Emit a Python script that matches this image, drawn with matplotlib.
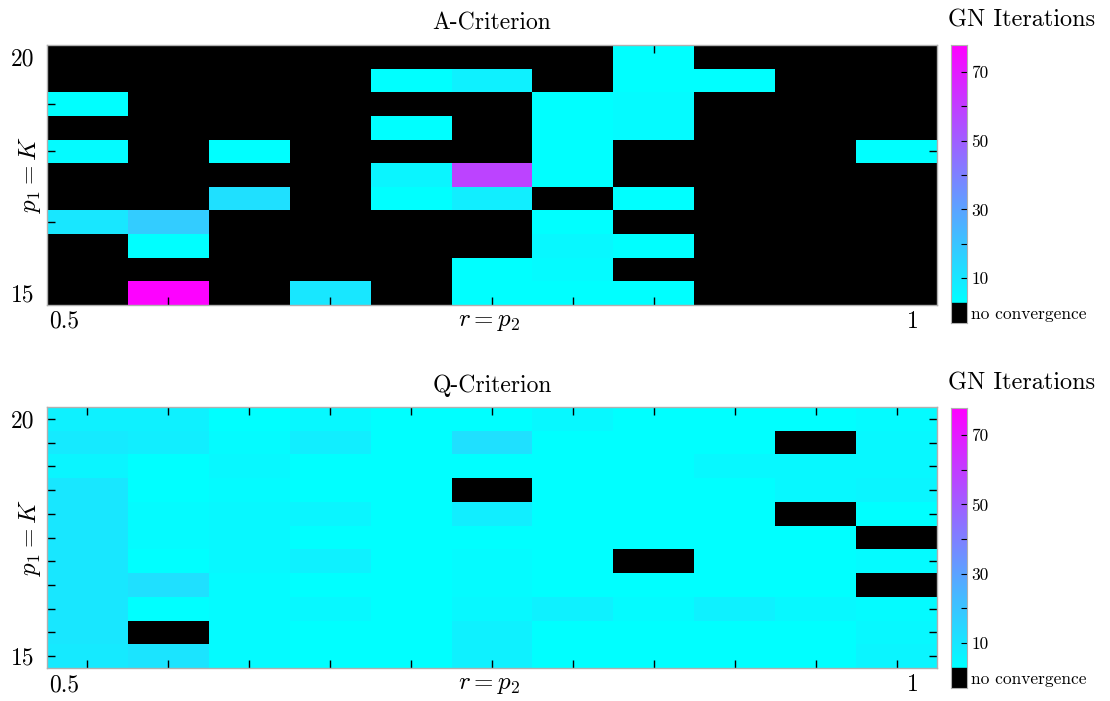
import numpy as np
import matplotlib
matplotlib.use("Agg")
import matplotlib.pyplot as plt

plt.rcParams['font.family'] = 'cmr10'
plt.rcParams['mathtext.fontset'] = 'cm'
plt.rcParams['axes.formatter.use_mathtext'] = True

N = np.nan

# grid values
r_vals = [0.5, 0.55, 0.6, 0.65, 0.7, 0.75, 0.8, 0.85, 0.9, 0.95, 1.0]
p1_vals = [20, 19.5, 19, 18.5, 18, 17.5, 17, 16.5, 16, 15.5, 15]

# GN iterations, rows from p1=20 (top) down to p1=15, NaN = no convergence
a_iters = [
    [N, N, N, N, N, N, N, 3, N, N, N],
    [N, N, N, N, 3, 7, N, 3, 3, N, N],
    [3, N, N, N, N, N, 3, 4, N, N, N],
    [N, N, N, N, 3, N, 3, 4, N, N, N],
    [4, N, 3, N, N, N, 3, N, N, N, 3],
    [N, N, N, N, 6, 58, 3, N, N, N, N],
    [N, N, 12, N, 3, 8, N, 3, N, N, N],
    [10, 18, N, N, N, N, 3, N, N, N, N],
    [N, 3, N, N, N, N, 5, 3, N, N, N],
    [N, N, N, N, N, 3, 4, N, N, N, N],
    [N, 77, N, 10, N, 3, 3, 3, N, N, N],
]

q_iters = [
    [7, 7, 3, 5, 3, 3, 5, 3, 3, 3, 4],
    [9, 8, 4, 8, 3, 12, 3, 3, 3, N, 5],
    [6, 3, 5, 3, 3, 3, 3, 3, 5, 5, 5],
    [10, 3, 4, 3, 3, N, 3, 3, 3, 5, 6],
    [10, 4, 5, 6, 3, 8, 3, 3, 3, N, 3],
    [10, 4, 5, 3, 3, 3, 3, 3, 3, 3, N],
    [10, 3, 5, 7, 3, 4, 3, N, 3, 3, 4],
    [10, 12, 4, 3, 3, 4, 3, 3, 3, 3, N],
    [10, 3, 4, 5, 3, 5, 7, 4, 7, 5, 4],
    [10, N, 4, 3, 3, 7, 3, 3, 3, 3, 5],
    [9, 11, 4, 3, 3, 7, 3, 3, 3, 3, 6],
]

cbar_ticks = [10, 20, 30, 40, 50, 60, 70]
cbar_labels = ['10', '', '30', '', '50', '', '70']

vmin, vmax = 2.8, 77.8
black_lo = -3.0

W, H = 1110, 701
fig = plt.figure(figsize=(W / 100, H / 100), dpi=100)

cmap = plt.get_cmap('cool').copy()
cmap.set_bad('black')


def px_rect(x0, y0, x1, y1):
    return [x0 / W, 1 - y1 / H, (x1 - x0) / W, (y1 - y0) / H]


def draw_panel(ax_box, cax_box, data, title):
    ax = fig.add_axes(px_rect(*ax_box))
    ax.pcolormesh(r_vals, p1_vals, np.array(data, dtype=float), cmap=cmap,
                  vmin=vmin, vmax=vmax, shading='nearest')
    ax.set_xticks(r_vals)
    ax.set_xticklabels([])
    ax.set_yticks(p1_vals)
    ax.set_yticklabels(['20'] + [''] * 9 + ['15'], fontsize=17)
    ax.tick_params(direction='in', length=6, width=1, color='black',
                   top=True, right=True, pad=9)
    for s in ax.spines.values():
        s.set_edgecolor('#b0b0b0')
        s.set_linewidth(1)
    ax.set_title(title, fontsize=17, pad=11)
    ax.text(0.002, -0.065, '0.5', transform=ax.transAxes, ha='left',
            va='center', fontsize=17)
    ax.text(0.497, -0.065, r'$r = p_2$', transform=ax.transAxes,
            ha='center', va='center', fontsize=18)
    ax.text(0.973, -0.065, '1', transform=ax.transAxes, ha='center',
            va='center', fontsize=17)
    ax.text(-0.019, 0.5, r'$p_1 = K$', transform=ax.transAxes, rotation=90,
            ha='center', va='center', fontsize=18)

    # colorbar with black "no convergence" block
    cax = fig.add_axes(px_rect(*cax_box))
    grad = np.linspace(vmin, vmax, 256)[:, None]
    cax.imshow(grad, extent=(0, 1, vmin, vmax), origin='lower', cmap='cool',
               vmin=vmin, vmax=vmax, aspect='auto')
    cax.axhspan(black_lo, vmin, color='black')
    cax.set_xlim(0, 1)
    cax.set_ylim(black_lo, vmax)
    cax.set_xticks([])
    cax.yaxis.tick_right()
    cax.set_yticks(cbar_ticks + [(black_lo + vmin) / 2])
    cax.set_yticklabels(cbar_labels + ['no convergence'], fontsize=12.5)
    cax.tick_params(direction='in', length=4, width=0.8, pad=3)
    for s in cax.spines.values():
        s.set_edgecolor('#b0b0b0')
        s.set_linewidth(0.8)
    fig.text((cax_box[0] + 71) / W, 1 - (cax_box[1] - 25) / H, 'GN Iterations',
             ha='center', va='center', fontsize=17.5)


draw_panel((47, 45, 937, 305), (951, 45, 967, 323), a_iters, 'A-Criterion')
draw_panel((47, 407, 937, 668), (951, 408, 967, 688), q_iters, 'Q-Criterion')

fig.savefig('out.png', dpi=100)
